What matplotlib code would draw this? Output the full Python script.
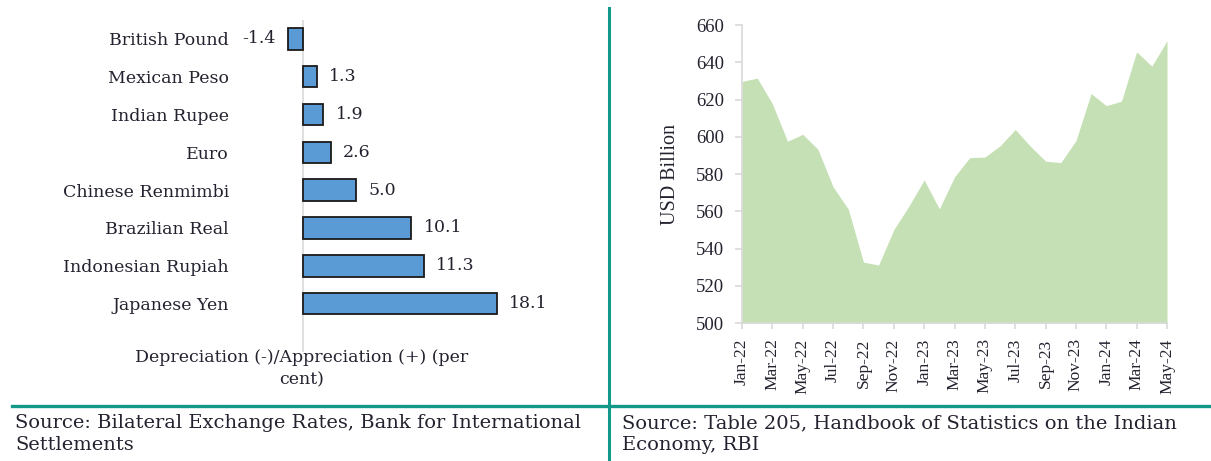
import matplotlib
matplotlib.use("Agg")
import matplotlib.pyplot as plt
from matplotlib.lines import Line2D

# ---------------- data ----------------
currencies = ["British Pound", "Mexican Peso", "Indian Rupee", "Euro",
              "Chinese Renmimbi", "Brazilian Real", "Indonesian Rupiah", "Japanese Yen"]
change_pct = [-1.4, 1.3, 1.9, 2.6, 5.0, 10.1, 11.3, 18.1]

months = ["Jan-22", "Feb-22", "Mar-22", "Apr-22", "May-22", "Jun-22", "Jul-22", "Aug-22",
          "Sep-22", "Oct-22", "Nov-22", "Dec-22", "Jan-23", "Feb-23", "Mar-23", "Apr-23",
          "May-23", "Jun-23", "Jul-23", "Aug-23", "Sep-23", "Oct-23", "Nov-23", "Dec-23",
          "Jan-24", "Feb-24", "Mar-24", "Apr-24", "May-24"]
reserves = [629.7, 631.5, 617.7, 597.6, 601.3, 593.3, 573.1, 561.2,
            532.7, 531.1, 550.1, 562.8, 576.8, 561.3, 578.4, 588.8,
            589.1, 595.1, 603.9, 594.9, 586.9, 586.1, 597.9, 623.2,
            616.7, 619.1, 645.6, 637.9, 651.5]

yticks_right = [500, 520, 540, 560, 580, 600, 620, 640, 660]

# ---------------- styles ----------------
W, H = 1211, 461
teal = "#13998a"
bar_color = "#5b9bd5"
area_color = "#c5e0b4"
axis_gray = "#d9d9d9"
text_dark = "#232330"
left_font = "DejaVu Serif"
right_font = "Liberation Serif"
left_size = 12.5

fig = plt.figure(figsize=(W / 100, H / 100), dpi=100)


def fx(px):
    return px / W


def fy(py):
    return 1 - py / H


# ---------------- left: bar chart ----------------
axL = fig.add_axes([fx(233), fy(352), fx(300), (352 - 20) / H])
ypos = list(range(len(currencies)))
axL.barh(ypos, change_pct, height=0.57, color=bar_color, edgecolor="#1a1a1a", linewidth=1.3)
axL.set_xlim(-6.54, (533 - 303) / 10.7)
axL.set_ylim(8.28, -0.5)
axL.axvline(0, color=axis_gray, lw=1.2, zorder=0)
for s in axL.spines.values():
    s.set_visible(False)
axL.set_xticks([])
axL.set_yticks(ypos)
axL.set_yticklabels(currencies, fontfamily=left_font, fontsize=left_size, color=text_dark)
axL.tick_params(axis="y", length=0, pad=3)
for y, v in zip(ypos, change_pct):
    off = 9 if v >= 0 else -9
    axL.annotate(f"{v:.1f}", xy=(v, y), xytext=(off, 0), textcoords="offset points",
                 ha="left" if v >= 0 else "right", va="center",
                 fontfamily=left_font, fontsize=left_size, color=text_dark)

fig.text(fx(302), fy(349), "Depreciation (-)/Appreciation (+) (per\ncent)",
         ha="center", va="top", fontfamily=left_font, fontsize=left_size, color=text_dark,
         linespacing=1.45)

# ---------------- right: area chart ----------------
axR = fig.add_axes([fx(742), fy(323), fx(1167 - 742), (323 - 25) / H])
xs = list(range(len(months)))
axR.fill_between(xs, 500, reserves, color=area_color, lw=0)
axR.set_xlim(0, len(months) - 1)
axR.set_ylim(500, 660)
for side in ("top", "right"):
    axR.spines[side].set_visible(False)
for side in ("left", "bottom"):
    axR.spines[side].set_color(axis_gray)
    axR.spines[side].set_linewidth(1.2)
axR.set_yticks(yticks_right)
axR.set_yticklabels([str(v) for v in yticks_right], fontfamily=right_font, fontsize=13.5,
                    color=text_dark)
axR.set_xticks(xs[::2])
axR.set_xticklabels(months[::2], rotation=90, fontfamily=right_font, fontsize=12.5,
                    color=text_dark)
axR.tick_params(axis="y", length=5, width=1.2, color=axis_gray, pad=8)
axR.tick_params(axis="x", length=4, width=1.2, color=axis_gray, pad=7)
axR.set_ylabel("USD Billion", fontfamily=right_font, fontsize=14.5, color=text_dark)
axR.yaxis.set_label_coords((680 - 742) / (1167 - 742), 0.5)

# ---------------- frame lines and sources ----------------
fig.add_artist(Line2D([fx(609), fx(609)], [0, fy(8)], transform=fig.transFigure,
                      color=teal, lw=2.2))
fig.add_artist(Line2D([fx(12), 1], [fy(406), fy(406)], transform=fig.transFigure,
                      color=teal, lw=2.4))

fig.text(fx(15), fy(414), "Source: Bilateral Exchange Rates, Bank for International\nSettlements",
         ha="left", va="top", fontfamily=left_font, fontsize=14, color=text_dark,
         linespacing=1.3)
fig.text(fx(622), fy(414), "Source: Table 205, Handbook of Statistics on the Indian\nEconomy, RBI",
         ha="left", va="top", fontfamily=left_font, fontsize=14, color=text_dark,
         linespacing=1.3)

fig.savefig("out.png", dpi=100)
